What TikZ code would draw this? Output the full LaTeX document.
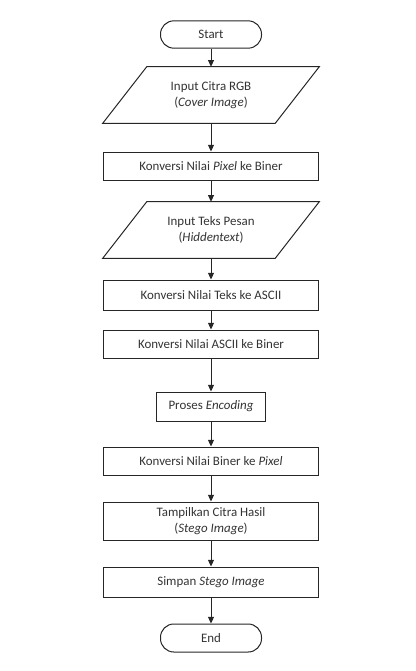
\documentclass[tikz,border=0pt]{standalone}
\usepackage{fontspec}
\setmainfont{Carlito}
\usepackage{tikz}
\usetikzlibrary{arrows.meta}
\definecolor{line}{HTML}{262626}
\definecolor{ink}{HTML}{333333}
\tikzset{
  lab/.style={text=ink, font=\fontsize{9.7}{12.5}\selectfont, align=center, inner sep=0pt},
  term/.style={lab, draw=line, line width=0.75pt, rounded corners=10pt, minimum width=75.75pt, minimum height=20.5pt},
  proc/.style={lab, draw=line, line width=0.75pt, minimum width=161.25pt, minimum height=21pt},
  io/.style={lab, minimum width=129pt, minimum height=42pt},
  para/.style={draw=line, line width=0.75pt, line join=miter},
  arr/.style={draw=line, line width=0.75pt, -{Triangle[length=5pt,width=4.5pt]}},
}
\begin{document}
\begin{tikzpicture}[x=0.75pt,y=-0.75pt]
  \useasboundingbox (0,0) rectangle (415,671);
  \node[term] (start) at (211,34.5) {Start};
  \node[io] (inA) at (211,95) {Input Citra RGB\\(\textit{Cover Image})};
  \node[proc] (konvA) at (211,166) {Konversi Nilai \textit{Pixel} ke Biner};
  \node[io] (inB) at (211,230) {Input Teks Pesan\\(\textit{Hiddentext})};
  \node[proc, minimum height=22.5pt] (konvB) at (211,295) {Konversi Nilai Teks ke ASCII};
  \node[proc] (konvC) at (211,344) {Konversi Nilai ASCII ke Biner};
  \node[proc, minimum width=81.75pt, minimum height=21.75pt] (enc) at (211,406.5) {Proses \textit{Encoding}};
  \node[proc] (konvD) at (211,461) {Konversi Nilai Biner ke \textit{Pixel}};
  \node[proc, minimum height=28.5pt] (show) at (211,521) {Tampilkan Citra Hasil\\(\textit{Stego Image})};
  \node[proc, minimum height=22.5pt] (save) at (211,582) {Simpan \textit{Stego Image}};
  \node[term, minimum height=21pt] (stop) at (211,638) {End};
  % input shapes
  \foreach \n in {inA,inB}
    \draw[para] ([xshift=16.5pt]\n.north west) -- ([xshift=16.5pt]\n.north east)
      -- ([xshift=-16.5pt]\n.south east) -- ([xshift=-16.5pt]\n.south west) -- cycle;
  % flow
  \foreach \a/\b in {start/inA,inA/konvA,konvA/inB,inB/konvB,konvB/konvC,konvC/enc,enc/konvD,konvD/show,show/save,save/stop}
    \draw[arr] (\a.south) -- (\b.north);
\end{tikzpicture}
\end{document}
